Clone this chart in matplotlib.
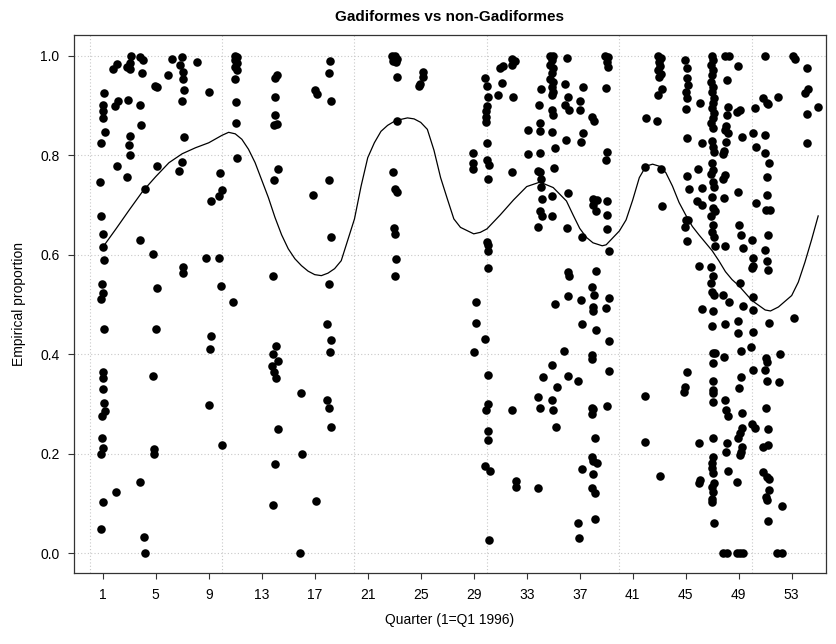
import matplotlib
matplotlib.use("Agg")
import matplotlib.pyplot as plt
import numpy as np

plt.rcParams['font.family'] = ['Liberation Sans', 'DejaVu Sans']

# empirical proportions by quarter (x is the jittered quarter index)
pts_q01_08 = [
    (1.13, 0.926), (1.0, 0.901), (1.0, 0.888), (1.05, 0.874), (1.18, 0.847), (0.87, 0.824),
    (0.80, 0.747), (0.87, 0.678), (1.05, 0.642), (1.05, 0.615), (1.13, 0.589), (0.92, 0.541),
    (1.05, 0.524), (0.87, 0.512), (1.8, 0.973), (2.06, 0.983), (1.93, 0.898), (2.18, 0.908),
    (2.11, 0.778), (3.14, 1.0), (3.06, 0.985), (2.81, 0.978), (3.06, 0.973), (2.94, 0.910),
    (3.06, 0.839), (3.01, 0.821), (3.06, 0.80), (2.86, 0.757), (3.82, 0.998), (4.07, 0.991),
    (3.94, 0.965), (3.82, 0.90), (3.87, 0.861), (4.19, 0.733), (3.82, 0.63), (4.82, 0.601),
    (5.13, 0.534), (4.95, 0.94), (5.13, 0.938), (5.13, 0.779), (6.21, 0.993), (6.96, 0.998),
    (6.84, 0.981), (7.09, 0.968), (7.04, 0.954), (7.14, 0.931), (6.96, 0.909), (5.9, 0.961),
    (7.14, 0.837), (6.96, 0.787), (6.79, 0.768), (7.09, 0.576), (7.09, 0.563),
    (1.13, 0.451), (5.0, 0.451), (1.0, 0.364), (1.05, 0.352), (1.0, 0.330), (1.1, 0.303),
    (1.18, 0.285), (0.97, 0.275), (0.92, 0.232), (1.05, 0.212), (0.87, 0.2), (4.82, 0.357),
    (4.87, 0.209), (4.87, 0.2), (3.82, 0.143), (2.0, 0.124), (1.0, 0.104), (0.87, 0.048),
    (4.14, 0.032), (4.19, 0.0), (8.09, 0.987),
]

pts_q09_18 = [
    (9.02, 0.928), (10.98, 1.0), (11.11, 0.998), (10.98, 0.991), (11.11, 0.985), (10.98, 0.978),
    (11.11, 0.971), (10.98, 0.954), (11.06, 0.906), (11.03, 0.864), (11.16, 0.795), (9.85, 0.764),
    (10.03, 0.73), (9.8, 0.719), (9.15, 0.707), (8.77, 0.594), (9.8, 0.594), (9.93, 0.538),
    (10.86, 0.506), (14.13, 0.961), (14.0, 0.956), (14.0, 0.916), (14.0, 0.881), (13.95, 0.861),
    (14.13, 0.862), (14.2, 0.772), (13.95, 0.75), (13.88, 0.558),
    (9.17, 0.437), (9.1, 0.41), (9.05, 0.299), (10.03, 0.218), (14.05, 0.417), (13.88, 0.4),
    (14.2, 0.387), (13.8, 0.376), (13.95, 0.365), (14.05, 0.352), (15.97, 0.323), (14.2, 0.25),
    (14.0, 0.179), (13.83, 0.098), (16.02, 0.2), (15.89, 0.0), (17.1, 0.106),
    (18.15, 0.99), (18.1, 0.966), (17.02, 0.932), (17.15, 0.924), (18.21, 0.909), (18.1, 0.75),
    (16.85, 0.72), (18.21, 0.636), (18.1, 0.542), (17.95, 0.46), (18.21, 0.429), (18.15, 0.405),
    (17.9, 0.308), (18.1, 0.293), (18.21, 0.254),
]

pts_q23_25 = [
    (22.81, 1.0), (23.06, 1.0), (23.19, 0.993), (22.94, 0.989), (23.14, 0.988), (23.19, 0.958),
    (23.19, 0.869), (22.94, 0.766), (23.06, 0.732), (23.24, 0.727), (22.98, 0.653), (23.06, 0.641),
    (23.14, 0.591), (23.06, 0.558), (25.15, 0.968), (25.2, 0.958), (24.95, 0.944), (24.9, 0.94),
]

pts_q29_35 = [
    (29.85, 0.956), (29.98, 0.939), (30.1, 0.918), (29.98, 0.898), (29.9, 0.888), (29.9, 0.877),
    (29.9, 0.866), (29.98, 0.824), (28.97, 0.804), (28.97, 0.784), (28.97, 0.772), (29.98, 0.79),
    (30.16, 0.78), (30.1, 0.752), (29.98, 0.626), (30.1, 0.62), (30.05, 0.608), (30.1, 0.573),
    (29.15, 0.506), (30.99, 0.976), (31.24, 0.98), (31.92, 0.993), (32.12, 0.989), (31.87, 0.981),
    (31.11, 0.946), (30.86, 0.921), (31.99, 0.916), (31.87, 0.767), (34.08, 0.933), (33.93, 0.9),
    (34.0, 0.864), (33.12, 0.851), (34.0, 0.849), (33.07, 0.802), (34.0, 0.804), (33.83, 0.768),
    (34.0, 0.767), (34.08, 0.752), (34.08, 0.737), (34.18, 0.713), (34.0, 0.687), (34.18, 0.677),
    (33.83, 0.656), (34.89, 0.677), (34.94, 0.719), (34.76, 1.0), (35.01, 0.999), (34.89, 0.991),
    (34.76, 0.981), (35.01, 0.975), (34.89, 0.965), (34.76, 0.954), (35.01, 0.948), (34.89, 0.938),
    (35.01, 0.928), (34.89, 0.921), (34.89, 0.891), (35.01, 0.881), (34.89, 0.847), (35.14, 0.814),
    (35.09, 0.774), (35.14, 0.5),
    (29.15, 0.462), (29.85, 0.431), (29.05, 0.405), (30.1, 0.358), (30.1, 0.3), (29.9, 0.288),
    (30.1, 0.246), (30.05, 0.228), (29.85, 0.175), (30.23, 0.166), (30.16, 0.027), (31.87, 0.287),
    (32.19, 0.145), (32.19, 0.133), (33.88, 0.131), (35.84, 0.407), (34.94, 0.378), (34.21, 0.355),
    (35.26, 0.334), (33.88, 0.315), (34.89, 0.308), (34.0, 0.293), (35.01, 0.288), (35.19, 0.254),
]

pts_q36_45 = [
    (36.01, 0.996), (35.89, 0.944), (36.14, 0.916), (35.89, 0.9), (36.21, 0.891), (35.96, 0.83),
    (36.14, 0.725), (36.01, 0.653), (37.27, 0.938), (37.02, 0.908), (37.02, 0.891), (37.22, 0.844),
    (37.07, 0.827), (37.9, 0.877), (38.1, 0.869), (38.91, 1.0), (39.16, 0.998), (39.03, 0.988),
    (39.16, 0.978), (38.98, 0.936), (39.03, 0.807), (38.98, 0.79), (38.03, 0.712), (38.28, 0.71),
    (38.03, 0.7), (38.23, 0.688), (39.03, 0.709), (39.08, 0.679), (39.08, 0.651), (37.2, 0.635),
    (39.23, 0.608), (36.14, 0.566), (36.21, 0.558), (38.23, 0.568), (36.14, 0.518), (37.07, 0.509),
    (37.9, 0.536), (38.08, 0.519), (37.98, 0.494), (37.98, 0.486), (38.98, 0.492), (39.23, 0.514),
    (42.0, 0.874), (42.86, 0.869), (41.92, 0.776), (43.11, 0.772), (43.18, 0.697), (42.93, 1.0),
    (43.11, 0.996), (43.01, 0.988), (43.06, 0.98), (42.93, 0.971), (43.11, 0.963), (43.01, 0.958),
    (43.18, 0.933), (42.93, 0.922), (44.94, 0.991), (45.07, 0.975), (45.12, 0.955), (45.2, 0.941),
    (45.02, 0.928), (45.07, 0.914), (45.02, 0.893), (45.07, 0.834), (45.12, 0.759), (45.27, 0.732),
    (45.02, 0.67), (45.2, 0.67), (44.94, 0.656), (45.07, 0.628),
    (37.2, 0.46), (38.23, 0.449), (39.23, 0.427), (37.9, 0.398), (37.9, 0.39), (39.23, 0.366),
    (36.14, 0.357), (36.89, 0.347), (37.9, 0.293), (38.03, 0.289), (37.9, 0.28), (39.03, 0.297),
    (38.15, 0.231), (37.95, 0.194), (38.03, 0.186), (38.28, 0.181), (37.15, 0.169), (37.98, 0.159),
    (37.9, 0.131), (38.15, 0.121), (38.15, 0.069), (36.89, 0.06), (36.97, 0.031), (41.92, 0.317),
    (41.92, 0.223), (43.06, 0.156), (45.07, 0.365), (44.94, 0.334), (44.87, 0.325),
]

pts_q46_55 = [
    (46.96, 1.0), (47.03, 0.991), (46.88, 0.981), (47.03, 0.971), (46.96, 0.961), (46.88, 0.948),
    (47.08, 0.938), (46.96, 0.928), (47.13, 0.914), (47.03, 0.904), (46.96, 0.894), (47.13, 0.884),
    (47.03, 0.874), (46.88, 0.864), (47.08, 0.854), (46.96, 0.829), (47.03, 0.817), (47.13, 0.807),
    (46.96, 0.784), (47.08, 0.77), (46.88, 0.762), (47.03, 0.747), (47.13, 0.737), (46.96, 0.717),
    (47.03, 0.693), (47.21, 0.687), (46.88, 0.677), (47.08, 0.66), (46.96, 0.646), (47.13, 0.636),
    (47.21, 0.618), (46.88, 0.575), (47.08, 0.558), (46.88, 0.543), (46.96, 0.526), (47.13, 0.519),
    (47.08, 0.486), (46.07, 0.904), (46.2, 0.824), (45.95, 0.772), (46.2, 0.735), (45.87, 0.708),
    (46.2, 0.699), (46.02, 0.577), (46.2, 0.491), (47.96, 1.0), (48.29, 1.0), (48.14, 0.951),
    (48.21, 0.896), (48.09, 0.881), (48.04, 0.859), (47.96, 0.851), (48.21, 0.844), (48.04, 0.827),
    (47.89, 0.809), (47.84, 0.802), (47.96, 0.76), (47.84, 0.752), (47.89, 0.715), (47.96, 0.618),
    (47.84, 0.519), (48.29, 0.506), (48.97, 0.98), (49.09, 0.891), (48.84, 0.886), (49.22, 0.837),
    (48.97, 0.727), (49.04, 0.66), (49.14, 0.64), (49.29, 0.613), (49.09, 0.543), (49.29, 0.496),
    (50.23, 0.894), (50.1, 0.844), (50.3, 0.817), (50.3, 0.703), (49.97, 0.63), (50.1, 0.594),
    (50.05, 0.578), (49.97, 0.573), (50.1, 0.516), (50.1, 0.489), (50.98, 1.0), (50.85, 0.914),
    (51.11, 0.904), (51.23, 0.902), (50.98, 0.841), (50.98, 0.804), (51.31, 0.784), (51.16, 0.757),
    (51.11, 0.72), (51.06, 0.69), (51.36, 0.69), (51.23, 0.64), (50.98, 0.61), (51.11, 0.587),
    (51.23, 0.569), (51.99, 0.918), (53.12, 1.0), (53.24, 0.993), (54.13, 0.975), (54.25, 0.934),
    (54.0, 0.926), (54.18, 0.882), (54.18, 0.825), (55.0, 0.896),
    (46.96, 0.457), (47.96, 0.461), (48.97, 0.466), (48.97, 0.443), (50.1, 0.445), (51.31, 0.463),
    (53.17, 0.472), (47.03, 0.403), (47.21, 0.402), (47.91, 0.394), (47.08, 0.382), (49.14, 0.407),
    (49.9, 0.414), (51.06, 0.392), (51.11, 0.385), (52.11, 0.4), (50.1, 0.368), (50.98, 0.368),
    (47.08, 0.347), (49.14, 0.354), (49.04, 0.333), (51.16, 0.347), (52.06, 0.345), (47.03, 0.328),
    (47.08, 0.323), (47.03, 0.305), (47.96, 0.308), (48.04, 0.287), (48.21, 0.276), (49.22, 0.281),
    (51.06, 0.293), (49.97, 0.26), (50.23, 0.251), (51.23, 0.249), (47.08, 0.232), (46.02, 0.221),
    (49.22, 0.251), (49.09, 0.242), (48.97, 0.231), (48.14, 0.222), (48.04, 0.204), (49.22, 0.214),
    (49.14, 0.204), (49.09, 0.198), (50.85, 0.214), (51.23, 0.218), (47.08, 0.193), (46.96, 0.181),
    (46.96, 0.171), (47.03, 0.161), (48.21, 0.166), (46.07, 0.147), (46.02, 0.141), (47.13, 0.141),
    (46.96, 0.134), (47.08, 0.124), (46.96, 0.11), (46.96, 0.104), (48.89, 0.143), (50.85, 0.163),
    (51.11, 0.154), (51.31, 0.149), (51.31, 0.127), (51.06, 0.114), (51.11, 0.107), (52.24, 0.096),
    (47.13, 0.06), (51.23, 0.064), (47.84, 0.0), (48.09, 0.0), (48.84, 0.0), (49.09, 0.0),
    (49.29, 0.0), (51.91, 0.0), (52.24, 0.0),
]

# smoothed trend
curve_x = [1, 2, 3, 4, 5, 6, 7, 8, 9, 10, 10.5, 11, 11.5, 12, 12.5, 13, 13.5, 14, 14.5, 15,
           15.5, 16, 16.5, 17, 17.5, 18, 18.5, 19, 19.5, 20, 20.5, 21, 21.5, 22, 22.5, 23,
           23.5, 24, 24.5, 25, 25.5, 26, 26.5, 27, 27.5, 28, 29, 29.5, 30, 31, 32, 33, 34, 35,
           36, 36.5, 37, 37.5, 38, 38.7, 39, 40, 40.5, 41, 41.5, 42, 42.5, 43, 43.5, 44, 44.5,
           45, 45.5, 46, 47, 47.5, 48, 48.5, 49, 50, 51, 51.4, 52, 53, 53.5, 54, 54.5, 55]
curve_y = [0.615, 0.652, 0.69, 0.727, 0.757, 0.785, 0.803, 0.815, 0.825, 0.84, 0.846, 0.843,
           0.832, 0.812, 0.785, 0.75, 0.715, 0.675, 0.64, 0.612, 0.592, 0.578, 0.567, 0.56,
           0.558, 0.563, 0.572, 0.588, 0.63, 0.672, 0.738, 0.795, 0.825, 0.848, 0.86, 0.868,
           0.872, 0.875, 0.873, 0.866, 0.852, 0.81, 0.755, 0.713, 0.672, 0.655, 0.642, 0.645,
           0.652, 0.68, 0.71, 0.737, 0.746, 0.735, 0.708, 0.68, 0.653, 0.635, 0.624, 0.618,
           0.62, 0.648, 0.67, 0.71, 0.755, 0.778, 0.782, 0.778, 0.765, 0.738, 0.705, 0.68,
           0.657, 0.64, 0.608, 0.588, 0.566, 0.55, 0.538, 0.508, 0.489, 0.487, 0.495, 0.518,
           0.545, 0.585, 0.63, 0.678]

x_ticks = list(range(1, 56, 4))
y_ticks = [0.0, 0.2, 0.4, 0.6, 0.8, 1.0]

all_pts = pts_q01_08 + pts_q09_18 + pts_q23_25 + pts_q29_35 + pts_q36_45 + pts_q46_55
px = np.array([p[0] for p in all_pts])
py = np.array([p[1] for p in all_pts])

fig = plt.figure(figsize=(8.37, 6.44), dpi=100)
ax = fig.add_axes([74 / 837, 1 - 573.3 / 644, (826 - 74) / 837, (573.3 - 35) / 644])

# background grid like R's grid()
for gx in range(0, 51, 10):
    ax.axvline(gx, color='#c8c8c8', lw=0.8, ls=(0, (1, 2)), zorder=0)
for gy in y_ticks:
    ax.axhline(gy, color='#c8c8c8', lw=0.8, ls=(0, (1, 2)), zorder=0)

ax.scatter(px, py, s=38, color='black', linewidths=0, zorder=2)
ax.plot(curve_x, curve_y, color='black', lw=0.9, zorder=3)

ax.set_xlim(-1.17, 55.59)
ax.set_ylim(-0.0402, 1.0416)
ax.set_xticks(x_ticks)
ax.set_yticks(y_ticks)
ax.set_yticklabels(['%.1f' % v for v in y_ticks])
ax.tick_params(direction='out', length=4.5, width=0.8, labelsize=10, color='#333333', pad=6)
for s in ax.spines.values():
    s.set_color('#333333')
    s.set_linewidth(0.9)

ax.set_title('Gadiformes vs non-Gadiformes', fontsize=11, fontweight='bold', pad=10)
ax.set_xlabel('Quarter (1=Q1 1996)', fontsize=10, labelpad=8)
ax.set_ylabel('Empirical proportion', fontsize=10, labelpad=10)

fig.savefig('out.png', dpi=100)
